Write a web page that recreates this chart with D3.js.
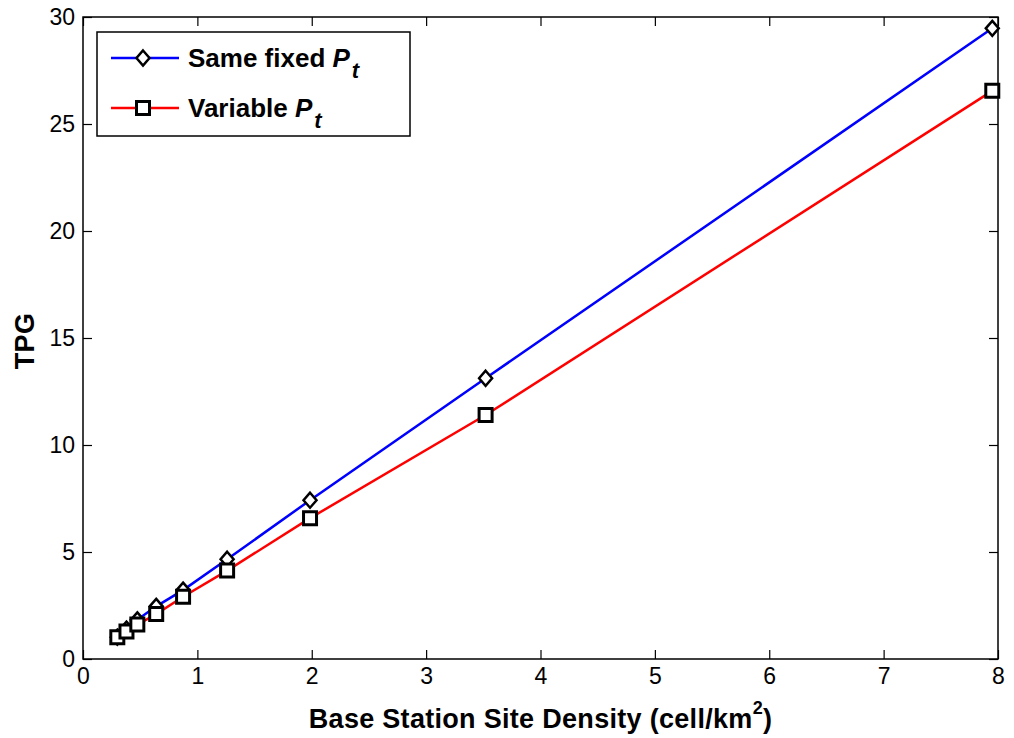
<!DOCTYPE html>
<html>
<head>
<meta charset="utf-8">
<script src="https://cdn.jsdelivr.net/npm/d3@7"></script>
<style>
  html, body { margin: 0; padding: 0; background: #fff; }
  svg { display: block; }
  text { font-family: "Liberation Sans", Arial, Helvetica, sans-serif; }
</style>
</head>
<body>
<svg id="chart" width="1014" height="738"></svg>
<script>
// Site density (cell/km^2) and the TPG reached at each density
const density = [0.30, 0.38, 0.475, 0.64, 0.875, 1.26, 1.985, 3.52, 7.95];
const tpgFixed = [1.02, 1.40, 1.83, 2.46, 3.22, 4.66, 7.42, 13.12, 29.47];
const tpgVariable = [1.02, 1.28, 1.61, 2.10, 2.91, 4.13, 6.58, 11.40, 26.55];
const xTicks = [0, 1, 2, 3, 4, 5, 6, 7, 8];
const yTicks = [0, 5, 10, 15, 20, 25, 30];

const svg = d3.select("#chart");
const plotL = 83, plotR = 998, plotT = 17, plotB = 659;
const tickLen = 9;

const x = d3.scaleLinear().domain([0, 8]).range([plotL, plotR]);
const y = d3.scaleLinear().domain([0, 30]).range([plotB, plotT]);

// axes on all four sides, ticks pointing inward
function styleAxis(g) {
  g.select(".domain").remove();
  g.selectAll(".tick line").attr("stroke", "#000").attr("stroke-width", 1.2);
  g.selectAll(".tick text").attr("fill", "#000").style("font-size", "23px");
}
svg.append("g").attr("transform", `translate(0,${plotB})`)
  .call(d3.axisBottom(x).tickValues(xTicks).tickSizeInner(-tickLen).tickSizeOuter(0).tickPadding(9))
  .call(styleAxis);
svg.append("g").attr("transform", `translate(0,${plotT})`)
  .call(d3.axisTop(x).tickValues(xTicks).tickSizeInner(-tickLen).tickSizeOuter(0).tickFormat(""))
  .call(styleAxis);
svg.append("g").attr("transform", `translate(${plotL},0)`)
  .call(d3.axisLeft(y).tickValues(yTicks).tickSizeInner(-tickLen).tickSizeOuter(0).tickPadding(8))
  .call(styleAxis);
svg.append("g").attr("transform", `translate(${plotR},0)`)
  .call(d3.axisRight(y).tickValues(yTicks).tickSizeInner(-tickLen).tickSizeOuter(0).tickFormat(""))
  .call(styleAxis);

svg.append("rect")
  .attr("x", plotL).attr("y", plotT)
  .attr("width", plotR - plotL).attr("height", plotB - plotT)
  .attr("fill", "none").attr("stroke", "#000").attr("stroke-width", 1.5);

// axis titles
const xt = svg.append("text")
  .attr("x", (plotL + plotR) / 2).attr("y", 728)
  .attr("text-anchor", "middle")
  .style("font-size", "27px").style("font-weight", "bold")
  .style("letter-spacing", "0.3px");
xt.append("tspan").text("Base Station Site Density (cell/km");
xt.append("tspan").attr("dy", -14).style("font-size", "18px").text("2");
xt.append("tspan").attr("dy", 14).text(")");

svg.append("text")
  .attr("transform", `translate(34,341) rotate(-90)`)
  .attr("text-anchor", "middle")
  .style("font-size", "27px").style("font-weight", "bold")
  .style("letter-spacing", "0.3px")
  .text("TPG");

const line = d3.line().x(d => x(d[0])).y(d => y(d[1]));
const fixedPts = density.map((d, i) => [d, tpgFixed[i]]);
const varPts = density.map((d, i) => [d, tpgVariable[i]]);

svg.append("path").datum(fixedPts).attr("d", line)
  .attr("fill", "none").attr("stroke", "#0000ff").attr("stroke-width", 2.5);
svg.append("path").datum(varPts).attr("d", line)
  .attr("fill", "none").attr("stroke", "#ff0000").attr("stroke-width", 2.5);

const diamond = (cx, cy) => `M${cx},${cy - 7.5}L${cx + 6.5},${cy}L${cx},${cy + 7.5}L${cx - 6.5},${cy}Z`;
const square = (cx, cy) => `M${cx - 6.5},${cy - 6.5}h13v13h-13Z`;

svg.append("g").selectAll("path").data(fixedPts).join("path")
  .attr("d", d => diamond(x(d[0]), y(d[1])))
  .attr("fill", "#fff").attr("stroke", "#000").attr("stroke-width", 2.5);
svg.append("g").selectAll("path").data(varPts).join("path")
  .attr("d", d => square(x(d[0]), y(d[1])))
  .attr("fill", "#fff").attr("stroke", "#000").attr("stroke-width", 3);

// legend
const lg = svg.append("g");
lg.append("rect").attr("x", 97).attr("y", 32).attr("width", 313).attr("height", 104)
  .attr("fill", "#fff").attr("stroke", "#000").attr("stroke-width", 1.5);
const entries = [
  { label: "Same fixed ", color: "#0000ff", mark: diamond, y: 58, sw: 2.5 },
  { label: "Variable ", color: "#ff0000", mark: square, y: 108, sw: 3 }
];
entries.forEach(e => {
  lg.append("line").attr("x1", 111).attr("x2", 179).attr("y1", e.y).attr("y2", e.y)
    .attr("stroke", e.color).attr("stroke-width", 2.5);
  lg.append("path").attr("d", e.mark(143, e.y))
    .attr("fill", "#fff").attr("stroke", "#000").attr("stroke-width", e.sw);
  const t = lg.append("text").attr("x", 188).attr("y", e.y + 9)
    .style("font-size", "26px").style("font-weight", "bold");
  t.append("tspan").text(e.label);
  t.append("tspan").style("font-style", "italic").text("P");
  t.append("tspan").attr("dx", 2).attr("dy", 11).style("font-style", "italic").style("font-size", "22px").text("t");
});
</script>
</body>
</html>
